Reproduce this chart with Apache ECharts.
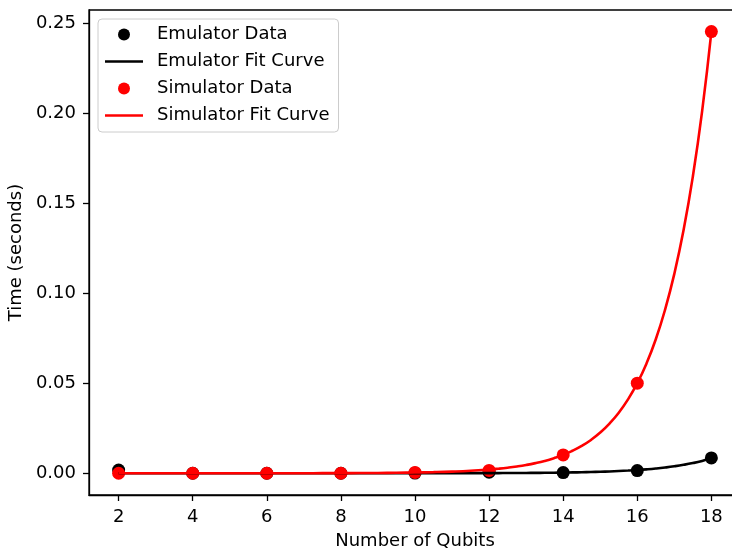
<!DOCTYPE html>
<html>
<head>
<meta charset="utf-8">
<script src="https://cdn.jsdelivr.net/npm/echarts@6/dist/echarts.min.js"></script>
<style>
  html, body { margin: 0; padding: 0; background: #fff; }
  #chart { width: 732px; height: 549px; }
</style>
</head>
<body>
<div id="chart"></div>
<script>
// Measured run times per qubit count
const qubits = [2, 4, 6, 8, 10, 12, 14, 16, 18];
const emulatorTimes = [0.0018, 0.0, 0.0, 0.0, 0.0001, 0.0006, 0.0004, 0.0015, 0.0085];
const simulatorTimes = [0.0, 0.0, 0.0, 0.0, 0.0005, 0.0016, 0.0102, 0.0500, 0.2452];

// Exponential fit curves: half-qubit samples up to 12, quarter-qubit samples beyond
const fitQubits = [2, 2.5, 3, 3.5, 4, 4.5, 5, 5.5, 6, 6.5, 7, 7.5, 8, 8.5, 9, 9.5, 10, 10.5, 11, 11.5,
  12, 12.25, 12.5, 12.75, 13, 13.25, 13.5, 13.75, 14, 14.25, 14.5, 14.75, 15, 15.25, 15.5, 15.75,
  16, 16.25, 16.5, 16.75, 17, 17.25, 17.5, 17.75, 18];
const emulatorFit = [0, 0, 0, 0, 0, 0, 0, 0, 0, 0, 0, 0, 0, 0, 0.00001, 0.00001, 0.00002, 0.00003, 0.00004, 0.00006,
  0.00009, 0.00011, 0.00013, 0.00015, 0.00019, 0.00022, 0.00027, 0.00033, 0.00040, 0.00048, 0.00058, 0.00070, 0.00085, 0.00102, 0.00124, 0.00150,
  0.00181, 0.00219, 0.00265, 0.00321, 0.00388, 0.00469, 0.00567, 0.00686, 0.0083];
const simulatorFit = [0, 0, 0, 0, 0, 0, 0.00001, 0.00001, 0.00002, 0.00003, 0.00004, 0.00006, 0.00009, 0.00013, 0.00019, 0.00029, 0.00043, 0.00063, 0.00094, 0.00140,
  0.00208, 0.00254, 0.00310, 0.00378, 0.00461, 0.00563, 0.00686, 0.00838, 0.0102, 0.0125, 0.0152, 0.0185, 0.0226, 0.0276, 0.0336, 0.0410,
  0.0500, 0.0610, 0.0744, 0.0908, 0.1107, 0.1350, 0.1647, 0.2009, 0.2450];

// Axis ticks
const xTicks = [2, 4, 6, 8, 10, 12, 14, 16, 18];
const yTicks = [0, 0.05, 0.10, 0.15, 0.20, 0.25];

const pairs = (xs, ys) => xs.map((x, i) => [x, ys[i]]);
const FONT = 'DejaVu Sans';
const FS = 18;
const LINE_ICON = 'path://M0,0 H38 V2.7 H0 Z';

const chart = echarts.init(document.getElementById('chart'), null, { renderer: 'canvas' });
chart.setOption({
  animation: false,
  backgroundColor: '#ffffff',
  grid: {
    left: 89, top: 10, right: -9, bottom: 54,
    outerBoundsMode: 'none',
    containLabel: false,
    show: true, borderColor: '#000', borderWidth: 1.3, backgroundColor: 'transparent'
  },
  legend: {
    left: 98, top: 19, orient: 'vertical',
    itemWidth: 38, itemHeight: 12, itemGap: 6,
    padding: [5, 9, 6, 7],
    borderColor: '#cccccc', borderWidth: 1, borderRadius: 4,
    backgroundColor: 'rgba(255,255,255,0.8)',
    textStyle: { fontFamily: FONT, fontSize: FS, color: '#000', lineHeight: 21, padding: [0, 0, 0, 9] },
    data: [
      { name: 'Emulator Data', icon: 'circle' },
      { name: 'Emulator Fit Curve', icon: LINE_ICON },
      { name: 'Simulator Data', icon: 'circle' },
      { name: 'Simulator Fit Curve', icon: LINE_ICON }
    ]
  },
  xAxis: {
    type: 'value', min: 1.2, max: 18.8,
    name: 'Number of Qubits', nameLocation: 'middle', nameGap: 37,
    nameTextStyle: { fontFamily: FONT, fontSize: FS, color: '#000' },
    axisLine: { show: true, onZero: false, lineStyle: { color: '#000', width: 1.3 } },
    axisTick: { show: true, length: 6, lineStyle: { color: '#000', width: 1.3 }, customValues: xTicks },
    axisLabel: { fontFamily: FONT, fontSize: FS, color: '#000', margin: 13, customValues: xTicks, formatter: v => String(v) },
    splitLine: { show: false }
  },
  yAxis: {
    type: 'value', min: -0.01206, max: 0.2572,
    name: 'Time (seconds)', nameLocation: 'middle', nameGap: 59, nameRotate: 90,
    nameTextStyle: { fontFamily: FONT, fontSize: FS, color: '#000' },
    axisLine: { show: true, onZero: false, lineStyle: { color: '#000', width: 1.3 } },
    axisTick: { show: true, length: 6, lineStyle: { color: '#000', width: 1.3 }, customValues: yTicks },
    axisLabel: { fontFamily: FONT, fontSize: FS, color: '#000', margin: 13, customValues: yTicks, formatter: v => v.toFixed(2) },
    splitLine: { show: false }
  },
  series: [
    {
      name: 'Emulator Data', type: 'scatter', symbol: 'circle', symbolSize: 13,
      itemStyle: { color: '#000000', opacity: 1 },
      data: pairs(qubits, emulatorTimes)
    },
    {
      name: 'Emulator Fit Curve', type: 'line', symbol: 'none', smooth: 0.5,
      lineStyle: { color: '#000000', width: 2.6 }, itemStyle: { color: '#000000' },
      data: pairs(fitQubits, emulatorFit)
    },
    {
      name: 'Simulator Data', type: 'scatter', symbol: 'circle', symbolSize: 13,
      itemStyle: { color: '#ff0000', opacity: 1 },
      data: pairs(qubits, simulatorTimes)
    },
    {
      name: 'Simulator Fit Curve', type: 'line', symbol: 'none', smooth: 0.5,
      lineStyle: { color: '#ff0000', width: 2.6 }, itemStyle: { color: '#ff0000' },
      data: pairs(fitQubits, simulatorFit)
    }
  ]
});
</script>
</body>
</html>
